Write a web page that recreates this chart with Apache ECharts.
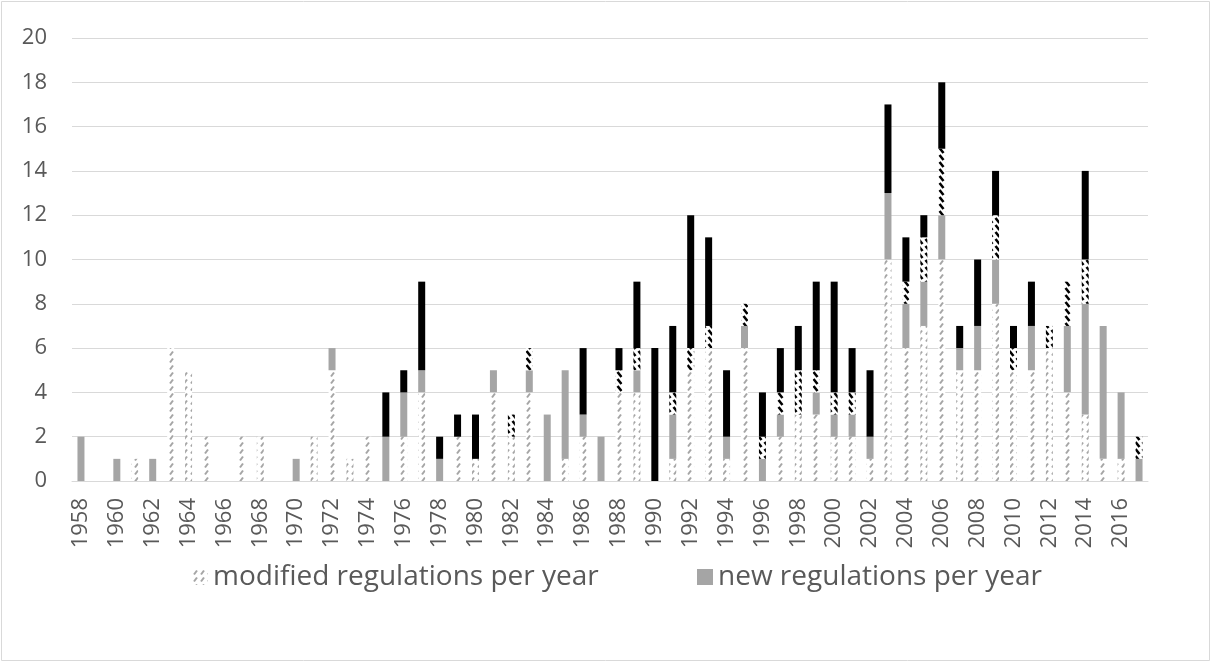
<!DOCTYPE html>
<html>
<head>
<meta charset="utf-8">
<script src="https://cdn.jsdelivr.net/npm/echarts@6/dist/echarts.min.js"></script>
<style>
html,body{margin:0;padding:0;background:#fff;}
#chart{width:1212px;height:663px;}
</style>
</head>
<body>
<div id="chart"></div>
<script>
// Years 1958..2017
const years = [];
for (let y = 1958; y <= 2017; y++) years.push(String(y));

// modified regulations per year (light grey hatched)
const modifiedRegs = [
  0,0,0,1,0,6,5,2,0,2, 2,0,0,2,5,1,2,0,2,4,
  0,2,1,4,2,4,0,1,2,0, 4,4,0,1,5,6,1,6,0,2,
  3,3,2,2,1,10,6,7,10,5, 5,8,5,5,6,4,3,1,1,0
];
// new regulations per year (solid grey)
const newRegs = [
  2,0,1,0,1,0,0,0,0,0, 0,0,1,0,1,0,0,2,2,1,
  1,0,0,1,0,1,3,4,1,2, 0,1,0,2,0,0,1,1,1,1,
  0,1,1,1,1,3,2,2,2,1, 2,2,0,2,0,3,5,6,3,1
];
// modified regulations (black hatched)
const modifiedBlack = [
  0,0,0,0,0,0,0,0,0,0, 0,0,0,0,0,0,0,0,0,0,
  0,0,0,0,1,1,0,0,0,0, 1,1,0,1,1,1,0,1,1,1,
  2,1,1,1,0,0,1,2,3,0, 0,2,1,0,1,2,2,0,0,1
];
// new regulations (solid black)
const newBlack = [
  0,0,0,0,0,0,0,0,0,0, 0,0,0,0,0,0,0,2,1,4,
  1,1,2,0,0,0,0,0,3,0, 1,3,6,3,6,4,3,0,2,2,
  2,4,5,2,3,4,2,1,3,1, 3,2,1,2,0,0,4,0,0,0
];
const yTicks = [0,2,4,6,8,10,12,14,16,18,20];

function makePattern(color, back, width, dir) {
  const c = document.createElement('canvas');
  c.width = 7; c.height = 7;
  const ctx = c.getContext('2d');
  ctx.fillStyle = back; ctx.fillRect(0,0,7,7);
  ctx.strokeStyle = color; ctx.lineWidth = width; ctx.lineCap = 'butt';
  ctx.beginPath();
  if (dir > 0) { ctx.moveTo(2,5.5); ctx.lineTo(5,1.5); }
  else { ctx.moveTo(1.5,1); ctx.lineTo(5.5,6); }
  ctx.stroke();
  return {image: c, repeat: 'repeat'};
}
const greyHatch = makePattern('#a5a5a5', '#ffffff', 2, 1);
const blackHatch = makePattern('#000000', '#ffffff', 2.6, -1);

const chart = echarts.init(document.getElementById('chart'), null, {renderer:'canvas'});
const font = '"Open Sans", "Noto Sans", sans-serif';
const bw = 7;
chart.setOption({
  animation: false,
  textStyle: {fontFamily: font},
  graphic: [{
    type: 'rect', silent: true,
    shape: {x: 1.5, y: 1.5, width: 1208, height: 659},
    style: {fill: 'none', stroke: '#d9d9d9', lineWidth: 1}
  }],
  legend: [{
    data: ['modified regulations per year'],
    left: 187, top: 558, itemWidth: 16, itemHeight: 16,
    icon: 'rect',
    textStyle: {fontSize: 28, color: '#595959', fontFamily: font}
  },{
    data: ['new regulations per year'],
    left: 692, top: 558, itemWidth: 16, itemHeight: 16,
    icon: 'rect',
    textStyle: {fontSize: 28, color: '#595959', fontFamily: font}
  }],
  grid: {left: 72, right: 64, top: 38, bottom: 182, containLabel: false},
  xAxis: {
    type: 'category', data: years,
    axisLine: {lineStyle: {color: '#d9d9d9', width: 1}},
    axisTick: {show: false},
    axisLabel: {interval: 1, rotate: 90, fontSize: 22, color: '#595959', margin: 17, fontFamily: font}
  },
  yAxis: {
    type: 'value', min: yTicks[0], max: yTicks[yTicks.length-1], interval: 2,
    axisLine: {show: false}, axisTick: {show: false},
    axisLabel: {fontSize: 22, color: '#595959', margin: 25, fontFamily: font},
    splitLine: {lineStyle: {color: '#d9d9d9', width: 1}}
  },
  series: [
    {name: 'modified regulations per year', type: 'bar', stack: 's', data: modifiedRegs,
     barWidth: bw, itemStyle: {color: greyHatch}},
    {name: 'new regulations per year', type: 'bar', stack: 's', data: newRegs,
     barWidth: bw, itemStyle: {color: '#a5a5a5'}},
    {name: 'modified (black)', type: 'bar', stack: 's', data: modifiedBlack,
     barWidth: bw, itemStyle: {color: blackHatch}},
    {name: 'new (black)', type: 'bar', stack: 's', data: newBlack,
     barWidth: bw, itemStyle: {color: '#000000'}}
  ]
});
</script>
</body>
</html>
